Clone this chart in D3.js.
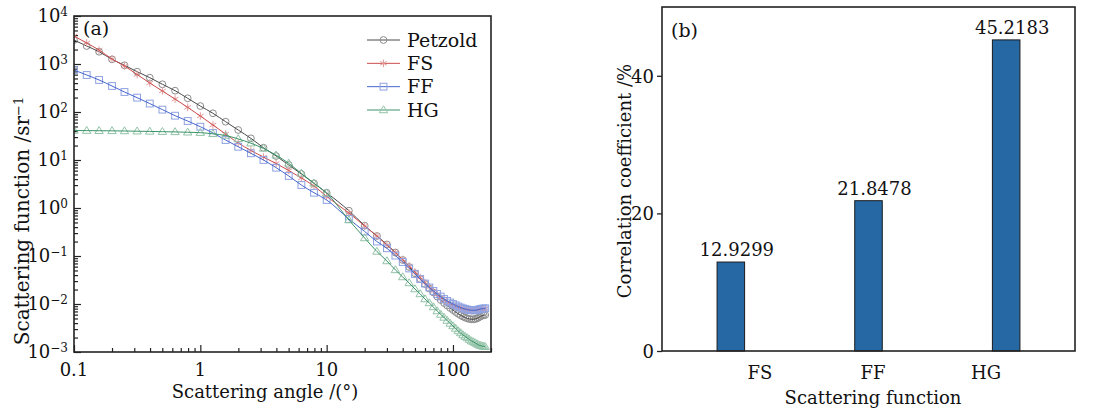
<!DOCTYPE html>
<html><head><meta charset="utf-8">
<script src="https://cdn.jsdelivr.net/npm/d3@7/dist/d3.min.js"></script>
<style>
html,body{margin:0;padding:0;background:#fff;}
svg text{font-family:"DejaVu Serif",serif;fill:#111;}
</style></head>
<body>
<svg id="c" width="1097" height="415"></svg>
<script>
// ---------- data ----------
const angles = [0.1,0.126,0.158,0.2,0.251,0.316,0.398,0.501,0.631,0.794,1,1.259,1.585,1.995,2.512,3.162,3.981,5.012,6.31,7.943,10,
  15,20,25,30,35,40,45,50,55,60,65,70,75,80,85,90,95,100,105,110,115,120,125,130,135,140,145,150,155,160,165,170,175,180];
const petzold = [3160,2370,1800,1250,940,692,519,378,278,193,133,94.0,62.8,42.2,28.3,18.0,12.1,7.87,5.11,3.27,2.08,
  0.879,0.428,0.261,0.174,0.118,0.0826,0.0590,0.0437,0.0332,0.0261,0.0210,0.0174,0.0143,0.0121,0.0105,0.00931,0.00826,0.00750,0.00681,0.00625,0.00582,0.00546,0.00521,0.00501,0.00487,0.00480,0.00480,0.00487,0.00501,0.00524,0.00550,0.00570,0.00585,0.00590];
const fsVals = [3830,2740,1950,1270,908,603,402,274,186,125,82.6,53.6,34.7,22.6,15.8,11.5,8.45,6.04,4.22,2.87,1.74,
  0.787,0.422,0.261,0.169,0.118,0.0845,0.0619,0.0465,0.0356,0.0281,0.0226,0.0187,0.0158,0.0136,0.0121,0.0110,0.0101,0.00944,0.00887,0.00845,0.00813,0.00787,0.00764,0.00750,0.00740,0.00733,0.00733,0.00740,0.00750,0.00764,0.00780,0.00787,0.00794,0.00798];
const ffVals = [750,590,465,348,261,199,150,112,83.8,64.9,49.4,36.5,26.1,18.9,13.8,10.0,6.92,4.65,3.01,2.08,1.47,
  0.590,0.324,0.200,0.145,0.102,0.0750,0.0550,0.0422,0.0331,0.0267,0.0221,0.0187,0.0162,0.0143,0.0127,0.0116,0.0107,0.0100,0.00940,0.00887,0.00845,0.00813,0.00787,0.00767,0.00750,0.00740,0.00740,0.00740,0.00750,0.00767,0.00787,0.00798,0.00805,0.00813];
const hgVals = [41.2,40.9,40.7,40.5,40.2,39.8,39.4,38.9,38.5,37.8,37.1,35.1,32.4,27.5,22.4,17.4,12.6,8.51,5.25,3.27,2.04,
  0.562,0.237,0.124,0.0787,0.0513,0.0365,0.0274,0.0205,0.0162,0.0127,0.0105,0.00866,0.00714,0.00604,0.00524,0.00453,0.00393,0.00348,0.00309,0.00274,0.00249,0.00226,0.00210,0.00196,0.00182,0.00169,0.00162,0.00155,0.00147,0.00140,0.00136,0.00133,0.00130,0.00129];
const seriesNames = ["Petzold","FS","FF","HG"];
const xTickValues = [0.1,1,10,100];
const xTickLabels = ["0.1","1","10","100"];
const yTickExponents = [-3,-2,-1,0,1,2,3,4];

const barCategories = ["FS","FF","HG"];
const barValues = [12.9299,21.8478,45.2183];
const barLabels = ["12.9299","21.8478","45.2183"];
const barTicks = [0,20,40];

// ---------- styles ----------
const lineColors = ["#4a4a4a","#cc4c4c","#4766cc","#3a9468"];
const markColors = ["#8c8c8c","#e39a9a","#8ea2e2","#93c3a8"];
const FS_ = 18;

const svg = d3.select("#c");

// ================= panel (a) =================
const A = {l:74, r:491, t:16, b:352};
const x = d3.scaleLog().domain([0.1,200]).range([A.l, A.r]);
const y = d3.scaleLog().domain([1e-3,1e4]).range([A.b, A.t]);

const gA = svg.append("g");

const xMinor = [];
for (let d=-1; d<=2; d++) for (let k=2;k<=9;k++){ const v=k*Math.pow(10,d); if (v<=200) xMinor.push(v);}
const yMinor = [];
for (let d=-3; d<4; d++) for (let k=2;k<=9;k++) yMinor.push(k*Math.pow(10,d));

const axB = d3.axisBottom(x).tickValues(xTickValues).tickSize(-7).tickFormat("");
const axBm = d3.axisBottom(x).tickValues(xMinor).tickSize(-4).tickFormat("");
const axL = d3.axisLeft(y).tickValues(yTickExponents.map(e=>Math.pow(10,e))).tickSize(-7).tickFormat("");
const axLm = d3.axisLeft(y).tickValues(yMinor).tickSize(-4).tickFormat("");
[[axB,`translate(0,${A.b})`],[axBm,`translate(0,${A.b})`],[axL,`translate(${A.l},0)`],[axLm,`translate(${A.l},0)`]].forEach(([ax,tr])=>{
  const g = gA.append("g").attr("transform",tr).call(ax);
  g.select(".domain").remove();
  g.selectAll("line").attr("stroke","#222").attr("stroke-width",1.2);
});

gA.selectAll(".xl").data(xTickValues).join("text")
  .attr("x",d=>x(d)).attr("y",376).attr("text-anchor","middle")
  .attr("font-size",FS_).text((d,i)=>xTickLabels[i]);
const yl = gA.selectAll(".yl").data(yTickExponents).join("text")
  .attr("x",68).attr("y",d=>y(Math.pow(10,d))+6).attr("text-anchor","end").attr("font-size",FS_);
yl.append("tspan").text("10");
yl.append("tspan").attr("dy","-0.5em").attr("font-size",12).text(d=>d<0?"\u2212"+(-d):String(d));

gA.append("text").attr("x",265).attr("y",398).attr("text-anchor","middle")
  .attr("font-size",FS_).text("Scattering angle /(\u00b0)");
const yt = gA.append("text").attr("transform","translate(29,221) rotate(-90)").attr("text-anchor","middle").attr("font-size",20);
yt.append("tspan").text("Scattering function /sr");
yt.append("tspan").attr("dy","-0.5em").attr("font-size",13).text("\u22121");

gA.append("text").attr("x",83).attr("y",35).attr("font-size",19).text("(a)");

const allSeries = [petzold, fsVals, ffVals, hgVals];
const line = d3.line().x((d,i)=>x(angles[i])).y(d=>y(d)).curve(d3.curveMonotoneX);
svg.append("clipPath").attr("id","clipA").append("rect")
  .attr("x",A.l).attr("y",A.t).attr("width",A.r-A.l).attr("height",A.b-A.t);
const gS = gA.append("g").attr("clip-path","url(#clipA)");

function marker(sel, type, color, cx, cy){
  if (type===0) sel.append("circle").attr("cx",cx).attr("cy",cy).attr("r",3.4).attr("fill","none").attr("stroke",color).attr("stroke-width",1);
  else if (type===1){ const r=3.8;
    sel.append("path").attr("d",`M${cx},${cy-r}L${cx},${cy+r}M${cx-r*0.87},${cy-r*0.5}L${cx+r*0.87},${cy+r*0.5}M${cx-r*0.87},${cy+r*0.5}L${cx+r*0.87},${cy-r*0.5}`)
      .attr("stroke",color).attr("stroke-width",1).attr("fill","none");}
  else if (type===2) sel.append("rect").attr("x",cx-3.4).attr("y",cy-3.4).attr("width",6.8).attr("height",6.8).attr("fill","none").attr("stroke",color).attr("stroke-width",1);
  else { const r=4.2;
    sel.append("path").attr("d",`M${cx},${cy-r}L${cx+r*1.0},${cy+r*0.65}L${cx-r*1.0},${cy+r*0.65}Z`).attr("fill","none").attr("stroke",color).attr("stroke-width",1);}
}
allSeries.forEach((vals,si)=>{
  const g = gS.append("g");
  vals.forEach((v,i)=>marker(g, si, markColors[si], x(angles[i]), y(v)));
  g.append("path").datum(vals).attr("d",line).attr("fill","none").attr("stroke",lineColors[si]).attr("stroke-width",1);
});

gA.append("rect").attr("x",A.l).attr("y",A.t).attr("width",A.r-A.l).attr("height",A.b-A.t)
  .attr("fill","none").attr("stroke","#222").attr("stroke-width",1.6);

const legY = d3.scalePoint().domain(seriesNames).range([40,110]);
seriesNames.forEach((n,si)=>{
  const yy = legY(n);
  gA.append("line").attr("x1",367).attr("x2",400).attr("y1",yy).attr("y2",yy).attr("stroke",lineColors[si]).attr("stroke-width",1);
  marker(gA, si, markColors[si], 383.5, yy);
  gA.append("text").attr("x",407).attr("y",yy+6.5).attr("font-size",19).text(n);
});

// ================= panel (b) =================
const B = {l:662, r:1075, t:7, b:351};
const xb = d3.scaleBand().domain(barCategories).range([B.l,B.r]).paddingInner(0.8).paddingOuter(0.4);
const xl = d3.scalePoint().domain(barCategories).range([B.l+98, B.l+324]);
const yb = d3.scaleLinear().domain([0,50]).range([B.b,B.t]);
const gB = svg.append("g");

gB.selectAll(".bar").data(barValues).join("rect")
  .attr("x",(d,i)=>xb(barCategories[i])).attr("width",xb.bandwidth())
  .attr("y",d=>yb(d)).attr("height",d=>yb(0)-yb(d))
  .attr("fill","#2568a3").attr("stroke","#1b1b1b").attr("stroke-width",1);

gB.selectAll(".vl").data(barValues).join("text")
  .attr("x",(d,i)=>xb(barCategories[i])+xb.bandwidth()/2+6).attr("y",d=>yb(d)-6)
  .attr("text-anchor","middle").attr("font-size",FS_).text((d,i)=>barLabels[i]);

const axBL = d3.axisLeft(yb).tickValues(barTicks).tickSize(5).tickPadding(3).tickFormat(d3.format("d"));
const gAx = gB.append("g").attr("transform",`translate(${B.l},0)`).call(axBL);
gAx.select(".domain").remove();
gAx.selectAll("line").attr("stroke","#222").attr("stroke-width",1.3);
gAx.selectAll("text").attr("font-size",FS_).attr("font-family","DejaVu Serif").attr("fill","#111").attr("dy","0.36em");

gB.selectAll(".cl").data(barCategories).join("text")
  .attr("x",d=>xl(d)).attr("y",379).attr("text-anchor","middle").attr("font-size",FS_).text(d=>d);

gB.append("text").attr("x",873).attr("y",404).attr("text-anchor","middle").attr("font-size",FS_).text("Scattering function");
gB.append("text").attr("transform","translate(631,181) rotate(-90)").attr("text-anchor","middle").attr("font-size",FS_).text("Correlation coefficient /%");
gB.append("text").attr("x",671).attr("y",37).attr("font-size",19).text("(b)");

gB.append("rect").attr("x",B.l).attr("y",B.t).attr("width",B.r-B.l).attr("height",B.b-B.t)
  .attr("fill","none").attr("stroke","#222").attr("stroke-width",1.6);
</script>
</body></html>
